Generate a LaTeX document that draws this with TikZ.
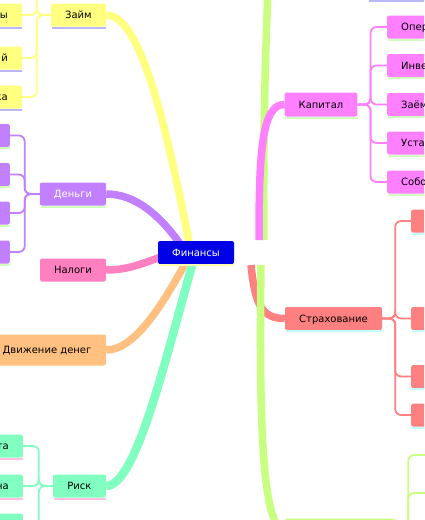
\documentclass[tikz,border=0pt]{standalone}
\usepackage{fontspec}
\setmainfont{DejaVu Sans}
\usetikzlibrary{calc}
\pgfdeclarelayer{bg}
\pgfsetlayers{bg,main}
\definecolor{cFin}{RGB}{0,0,230}
\definecolor{cYel}{RGB}{255,255,128}
\definecolor{cPur}{RGB}{192,128,255}
\definecolor{cPnk}{RGB}{255,128,192}
\definecolor{cOrg}{RGB}{255,192,128}
\definecolor{cMnt}{RGB}{128,255,192}
\definecolor{cMag}{RGB}{255,128,255}
\definecolor{cSal}{RGB}{255,128,128}
\definecolor{cGrn}{RGB}{200,255,128}
\definecolor{sLav}{RGB}{184,184,248}
\definecolor{sGrn}{RGB}{208,255,192}
\definecolor{sPnk}{RGB}{255,192,224}
\definecolor{sCya}{RGB}{192,255,255}
\definecolor{sYel}{RGB}{255,255,176}
\tikzset{
  box/.style={rectangle, rounded corners=2pt, minimum height=23pt, inner xsep=14pt,
    inner ysep=0pt, text height=7.5pt, text depth=0.5pt, font=\fontsize{10}{12}\selectfont},
  lkid/.style={box, anchor=east, text width=60pt, align=right},
  rkid/.style={box, anchor=west, text width=60pt, align=left},
  branch/.style={line width=7.5pt},
  sub/.style={line width=1.8pt, rounded corners=6pt},
}
\begin{document}
\begin{tikzpicture}[x=1pt,y=-1pt]
\useasboundingbox (0,0) rectangle (424,520);
\clip (0,0) rectangle (424,520);
% central
\node[box, fill=cFin, text=white, minimum width=76pt] (fin) at (196,252.5) {Финансы};
% left side
\node[box, fill=cYel, minimum width=55pt] (zaim) at (78.5,15) {Займ};
\node[lkid, fill=cYel] (y0) at (22,-24) {};
\node[lkid, fill=cYel] (y1) at (22,15) {ы};
\node[lkid, fill=cYel] (y2) at (22,58) {й};
\node[lkid, fill=cYel] (y3) at (22,97) {ка};
\node[box, fill=cPur, text=white, minimum width=66pt] (deng) at (73,194) {Деньги};
\node[lkid, fill=cPur] (p1) at (10,135.5) {};
\node[lkid, fill=cPur] (p2) at (10,174.5) {};
\node[lkid, fill=cPur] (p3) at (10,213) {};
\node[lkid, fill=cPur] (p4) at (10,252) {};
\node[box, fill=cPnk, minimum width=66pt] (nalog) at (73,270) {Налоги};
\node[box, fill=cOrg, minimum width=118pt, minimum height=31pt] (dvizh) at (47,350) {Движение денег};
\node[box, fill=cMnt, minimum width=53pt] (risk) at (79.5,486) {Риск};
\node[lkid, fill=cMnt] (g1) at (23,446) {та};
\node[lkid, fill=cMnt] (g2) at (23,486) {на};
\node[lkid, fill=cMnt] (g3) at (23,525) {};
% right side
\node[box, fill=cGrn, anchor=west, minimum width=80pt] (topn) at (368,-12) {};
\node[box, fill=cMag, minimum width=72pt, minimum height=24pt] (kap) at (321,104.5) {Капитал};
\node[rkid, fill=cMag] (m1) at (387,27) {Опер};
\node[rkid, fill=cMag] (m2) at (387,65.5) {Инве};
\node[rkid, fill=cMag] (m3) at (387,104.5) {Заём};
\node[rkid, fill=cMag] (m4) at (387,143) {Уста};
\node[rkid, fill=cMag] (m5) at (387,182) {Собо};
\node[box, fill=cSal, minimum width=97pt] (strah) at (333.5,318.5) {Страхование};
\node[rkid, fill=cSal] (s1) at (411,221) {};
\node[rkid, fill=cSal] (s2) at (411,318.5) {};
\node[rkid, fill=cSal] (s3) at (411,376.5) {};
\node[rkid, fill=cSal] (s4) at (411,415) {};
\node[box, fill=cGrn, minimum width=110pt] (bot) at (340,530) {};
\node[rkid, fill=cGrn] (b1) at (426,455) {};
\node[rkid, fill=cGrn] (b2) at (426,493) {};
% shadows
\foreach \n/\c in {fin/sYel, zaim/sLav, y0/sLav, y1/sLav, y2/sLav, y3/sLav,
  deng/sGrn, p1/sGrn, p2/sGrn, p3/sGrn, p4/sGrn, risk/sPnk, g1/sPnk, g2/sPnk, g3/sPnk,
  topn/sLav, kap/sGrn, m1/sGrn, m2/sGrn, m3/sGrn, m4/sGrn, m5/sGrn,
  strah/sCya, s1/sCya, s2/sCya, s3/sCya, s4/sCya}
  {\fill[\c] ($(\n.south west)+(1,0)$) rectangle ($(\n.south east)+(0,2)$);}
% free ends of right branches
\coordinate (gTop) at (264,240);
\coordinate (gTopEnd) at (268,-10);
\coordinate (mStart) at (259,240);
\coordinate (sStart) at (251,265);
\coordinate (gBot) at (261,265);
\begin{pgfonlayer}{bg}
% thick branches
\draw[branch, cYel] (zaim.east) .. controls +(34,0) and (165,120) .. ($(fin.center)+(-6,-6)$);
\draw[branch, cPur] (deng.east) .. controls +(29,0) and (160,215) .. ($(fin.center)+(-14,-6)$);
\draw[branch, cPnk] (nalog.east) .. controls +(24,0) and (145,262) .. ($(fin.west)+(8,3)$);
\draw[branch, cOrg] (dvizh.east) .. controls +(30,0) and (165,300) .. ($(fin.center)+(-8,6)$);
\draw[branch, cMnt, line width=8.5pt] (risk.east) .. controls +(30,0) and (165,360) .. ($(fin.center)+(-2,6)$);
\draw[branch, cGrn] (gTop) .. controls (263,150) and (265,60) .. (gTopEnd);
\draw[branch, cMag] (mStart) .. controls (259,150) and (262,104.5) .. (kap.west);
\draw[branch, cSal] (sStart) .. controls (255,305) and (262,318.5) .. (strah.west);
\draw[branch, cGrn] (gBot) .. controls (259,420) and (262,530) .. (bot.west);
% child connectors
\foreach \k in {y0,y1,y2,y3} {\draw[sub, cYel] (zaim.west) -- ++(-14,0) |- (\k.east);}
\foreach \k in {p1,p2,p3,p4} {\draw[sub, cPur] (deng.west) -- ++(-15,0) |- (\k.east);}
\foreach \k in {g1,g2,g3} {\draw[sub, cMnt] (risk.west) -- ++(-14,0) |- (\k.east);}
\foreach \k in {m1,m2,m3,m4,m5} {\draw[sub, cMag] (kap.east) -- ++(13,0) |- (\k.west);}
\foreach \k in {s1,s2,s3,s4} {\draw[sub, cSal] (strah.east) -- ++(13,0) |- (\k.west);}
\foreach \k in {b1,b2} {\draw[sub, cGrn] (bot.east) -- ++(13,0) |- (\k.west);}
\end{pgfonlayer}
\end{tikzpicture}
\end{document}
